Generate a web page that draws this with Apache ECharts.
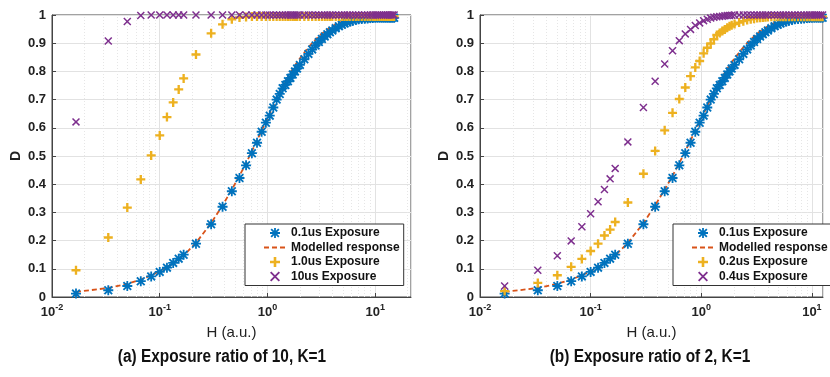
<!DOCTYPE html>
<html>
<head>
<meta charset="utf-8">
<script src="https://cdn.jsdelivr.net/npm/echarts@6/dist/echarts.min.js"></script>
<style>
  html, body { margin: 0; padding: 0; background: #fff; }
  #chart { width: 830px; height: 377px; }
</style>
</head>
<body>
<div id="chart"></div>
<script>
// H (a.u.) sample points, shared by every exposure series
const hValues = [
  0.0167, 0.0333, 0.05, 0.0667, 0.0833, 0.1, 0.1167, 0.1333, 0.15, 0.1667,
  0.217, 0.3, 0.383, 0.467, 0.55, 0.633, 0.717, 0.8, 0.883, 0.967,
  1.05, 1.133, 1.217, 1.3, 1.383, 1.467, 1.55, 1.633, 1.717, 1.8,
  1.883, 2.0, 2.2, 2.4, 2.6, 2.8, 3.0, 3.2, 3.4, 3.6,
  3.8, 4.0, 4.3, 4.6, 4.9, 5.2, 5.5, 5.8, 6.2, 6.6,
  7.0, 7.5, 8.0, 8.5, 9.0, 9.5, 10, 10.5, 11, 11.5,
  12, 12.5, 13, 13.5, 14, 14.5, 15
];

// D values
const exposure01 = [
  0.012, 0.024, 0.039, 0.056, 0.073, 0.089, 0.104, 0.121, 0.136, 0.150,
  0.189, 0.258, 0.320, 0.375, 0.422, 0.467, 0.510, 0.547, 0.586, 0.618,
  0.643, 0.672, 0.700, 0.720, 0.740, 0.752, 0.765, 0.777, 0.789, 0.800,
  0.810, 0.823, 0.843, 0.862, 0.878, 0.892, 0.904, 0.915, 0.924, 0.932,
  0.939, 0.945, 0.953, 0.960, 0.965, 0.970, 0.974, 0.977, 0.980, 0.983,
  0.985, 0.986, 0.987, 0.988, 0.989, 0.989, 0.99, 0.99, 0.99, 0.99,
  0.99, 0.99, 0.99, 0.99, 0.99, 0.99, 0.99
];
const modelled = [
  0.018, 0.032, 0.047, 0.062, 0.077, 0.092, 0.106, 0.120, 0.134, 0.147,
  0.192, 0.262, 0.325, 0.381, 0.430, 0.475, 0.517, 0.555, 0.590, 0.622,
  0.650, 0.677, 0.702, 0.725, 0.746, 0.764, 0.780, 0.795, 0.809, 0.821,
  0.832, 0.846, 0.867, 0.885, 0.900, 0.913, 0.924, 0.934, 0.942, 0.949,
  0.955, 0.960, 0.967, 0.972, 0.976, 0.979, 0.982, 0.984, 0.986, 0.987,
  0.988, 0.989, 0.99, 0.99, 0.99, 0.99, 0.99, 0.99, 0.99, 0.99,
  0.99, 0.99, 0.99, 0.99, 0.99, 0.99, 0.99
];
const exposure10 = [
  0.095, 0.211, 0.317, 0.417, 0.502, 0.573, 0.638, 0.690, 0.736, 0.775,
  0.860, 0.935, 0.967, 0.985, 0.991, 0.993, 0.995, 0.995, 0.995, 0.995,
  0.995, 0.995, 0.995, 0.995, 0.995, 0.995, 0.995, 0.995, 0.995, 0.995,
  0.995, 0.995, 0.995, 0.995, 0.995, 0.995, 0.995, 0.995, 0.995, 0.995,
  0.995, 0.995, 0.995, 0.995, 0.995, 0.995, 0.995, 0.995, 0.995, 0.995,
  0.995, 0.995, 0.995, 0.995, 0.995, 0.995, 0.995, 0.995, 0.995, 0.995,
  0.995, 0.995, 0.995, 0.995, 0.995, 0.995, 0.995
];
const exposure100 = [
  0.621, 0.908, 0.977, 0.998, 1, 1, 1, 1, 1, 1,
  1, 1, 1, 1, 1, 1, 1, 1, 1, 1,
  1, 1, 1, 1, 1, 1, 1, 1, 1, 1,
  1, 1, 1, 1, 1, 1, 1, 1, 1, 1,
  1, 1, 1, 1, 1, 1, 1, 1, 1, 1,
  1, 1, 1, 1, 1, 1, 1, 1, 1, 1,
  1, 1, 1, 1, 1, 1, 1
];
const exposure02 = [
  0.021, 0.050, 0.077, 0.107, 0.135, 0.163, 0.189, 0.218, 0.239, 0.266,
  0.335, 0.437, 0.518, 0.591, 0.653, 0.702, 0.743, 0.783, 0.814, 0.837,
  0.864, 0.884, 0.899, 0.914, 0.929, 0.936, 0.943, 0.949, 0.955, 0.960,
  0.964, 0.968, 0.973, 0.978, 0.982, 0.985, 0.987, 0.989, 0.990, 0.991,
  0.992, 0.993, 0.994, 0.994, 0.994, 0.994, 0.994, 0.994, 0.994, 0.994,
  0.994, 0.994, 0.994, 0.994, 0.994, 0.994, 0.994, 0.994, 0.994, 0.994,
  0.994, 0.994, 0.994, 0.994, 0.994, 0.994, 0.994
];
const exposure04 = [
  0.039, 0.095, 0.146, 0.199, 0.249, 0.295, 0.338, 0.381, 0.419, 0.456,
  0.550, 0.672, 0.765, 0.826, 0.873, 0.909, 0.933, 0.949, 0.963, 0.972,
  0.980, 0.985, 0.989, 0.992, 0.994, 0.995, 0.996, 0.997, 0.998, 0.998,
  0.999, 1, 1, 1, 1, 1, 1, 1, 1, 1,
  1, 1, 1, 1, 1, 1, 1, 1, 1, 1,
  1, 1, 1, 1, 1, 1, 1, 1, 1, 1,
  1, 1, 1, 1, 1, 1, 1
];

const legendLeft = ["0.1us Exposure", "Modelled response", "1.0us Exposure", "10us Exposure"];
const legendRight = ["0.1us Exposure", "Modelled response", "0.2us Exposure", "0.4us Exposure"];
const captions = ["(a) Exposure ratio of 10, K=1", "(b) Exposure ratio of 2, K=1"];

const BLUE = "#0072BD";
const ORANGE = "#D95319";
const YELLOW = "#EDB120";
const PURPLE = "#7E2F8E";

const ARIAL = "'Liberation Sans', Arial, sans-serif";

// matlab style markers
const asterisk = "path://M-0.9,-5H0.9V-0.9H5V0.9H0.9V5H-0.9V0.9H-5V-0.9H-0.9Z M-3.2,-4.5L4.5,3.2L3.2,4.5L-4.5,-3.2Z M-4.5,3.2L3.2,-4.5L4.5,-3.2L-3.2,4.5Z";
const plus = "path://M-1.3,-5H1.3V-1.3H5V1.3H1.3V5H-1.3V1.3H-5V-1.3H-1.3Z";
const cross = "path://M-3.4,-4.6L4.6,3.4L3.4,4.6L-4.6,-3.4Z M-4.6,3.4L3.4,-4.6L4.6,-3.4L-3.4,4.6Z";

const pairs = (ys) => hValues.map((h, i) => [h, ys[i]]);

// dotted minor grid at 2..9 of each decade
function minorGrid(max) {
  const out = [];
  for (let e = -2; e <= 1; e++) {
    for (let m = 2; m <= 9; m++) {
      const v = m * Math.pow(10, e);
      if (v < max) out.push({ xAxis: v });
    }
  }
  return out;
}

const chart = echarts.init(document.getElementById("chart"), null, { renderer: "canvas" });

const grids = [
  { left: 52, top: 15, width: 359, height: 282, xMax: 21.5 },
  { left: 480, top: 15, width: 343, height: 282, xMax: 12.6 },
];

function xAxisFor(i) {
  return {
    type: "log",
    logBase: 10,
    gridIndex: i,
    min: 0.01,
    max: grids[i].xMax,
    splitNumber: 3,
    name: "H (a.u.)",
    nameLocation: "middle",
    nameGap: 28,
    nameTextStyle: { fontFamily: ARIAL, fontSize: 15, color: "#222" },
    axisLine: { lineStyle: { color: "#444", width: 1 } },
    axisTick: { inside: true, length: 4, lineStyle: { color: "#444" } },
    splitLine: { show: true, lineStyle: { color: "#e2e2e2", width: 1 } },
    axisLabel: {
      margin: 6,
      showMaxLabel: false,
      formatter: (v) => {
        const e = Math.round(Math.log10(v));
        if (Math.abs(v - Math.pow(10, e)) > 1e-9 * Math.pow(10, e)) return "";
        return "{b|10}{s|" + e + "}";
      },
      rich: {
        b: { fontFamily: ARIAL, fontWeight: "bold", fontSize: 13, color: "#222", lineHeight: 16, verticalAlign: "bottom" },
        s: { fontFamily: ARIAL, fontWeight: "bold", fontSize: 9, color: "#222", lineHeight: 6, verticalAlign: "top" },
      },
    },
  };
}

function yAxisFor(i) {
  return {
    type: "value",
    gridIndex: i,
    min: 0,
    max: 1,
    interval: 0.1,
    name: "D",
    nameLocation: "middle",
    nameGap: 29,
    nameTextStyle: { fontFamily: ARIAL, fontWeight: "bold", fontSize: 14, color: "#222" },
    axisLine: { show: true, lineStyle: { color: "#444", width: 1 } },
    axisTick: { show: true, inside: true, length: 4, lineStyle: { color: "#444" } },
    splitLine: { show: true, lineStyle: { color: "#e2e2e2", width: 1 } },
    axisLabel: {
      margin: 6,
      fontFamily: ARIAL,
      fontWeight: "bold",
      fontSize: 13,
      color: "#222",
      formatter: (v) => (v === 0 || v === 1 ? String(v) : v.toFixed(1)),
    },
  };
}

function scatter(name, i, ys, symbol, size, color) {
  return {
    name,
    type: "scatter",
    xAxisIndex: i,
    yAxisIndex: i,
    data: pairs(ys),
    symbol,
    symbolSize: size,
    itemStyle: { color, opacity: 1 },
    emphasis: { disabled: true },
    z: 3,
  };
}

function modelLine(i) {
  return {
    name: "Modelled response",
    type: "line",
    xAxisIndex: i,
    yAxisIndex: i,
    data: pairs(modelled),
    symbol: "none",
    showSymbol: false,
    lineStyle: { color: ORANGE, width: 1.8, type: [5, 3] },
    itemStyle: { color: ORANGE },
    z: 3,
    markLine: {
      silent: true,
      z: 1,
      symbol: ["none", "none"],
      label: { show: false },
      animation: false,
      lineStyle: { color: "#e6e6e6", width: 1, type: [1, 2] },
      data: minorGrid(grids[i].xMax),
    },
  };
}

function legendFor(left, names) {
  return {
    orient: "vertical",
    left,
    top: 224,
    padding: [2, 4, 2, 18],
    itemWidth: 22,
    itemHeight: 10,
    itemGap: 0.5,
    itemTextGap: 3,
    selectedMode: false,
    backgroundColor: "#fff",
    borderColor: "#333",
    borderWidth: 1,
    borderRadius: 0,
    textStyle: { fontFamily: ARIAL, fontWeight: "bold", fontSize: 12, color: "#111", lineHeight: 14 },
    data: names.map((n) => (n === "Modelled response" ? { name: n, itemStyle: { opacity: 0 } } : n)),
  };
}

// panel captions, squeezed horizontally to look like a narrow face
function caption(text, cx) {
  return {
    type: "text",
    x: cx,
    y: 357,
    scaleX: 0.855,
    silent: true,
    style: {
      text,
      fontFamily: ARIAL,
      fontWeight: "bold",
      fontSize: 18,
      fill: "#111",
      align: "center",
      verticalAlign: "middle",
    },
  };
}

const option = {
  animation: false,
  backgroundColor: "#fff",
  grid: grids.map((g) => ({
    left: g.left,
    top: g.top,
    width: g.width,
    height: g.height,
    show: true,
    borderColor: "#444",
    borderWidth: 1,
    backgroundColor: "#fff",
  })),
  graphic: [caption(captions[0], 222), caption(captions[1], 650)],
  legend: [legendFor(245, legendLeft), legendFor(673, legendRight)],
  xAxis: [xAxisFor(0), xAxisFor(1)],
  yAxis: [yAxisFor(0), yAxisFor(1)],
  series: [
    scatter("0.1us Exposure", 0, exposure01, asterisk, 10, BLUE),
    modelLine(0),
    scatter("1.0us Exposure", 0, exposure10, plus, 9, YELLOW),
    scatter("10us Exposure", 0, exposure100, cross, 8, PURPLE),
    scatter("0.1us Exposure", 1, exposure01, asterisk, 10, BLUE),
    modelLine(1),
    scatter("0.2us Exposure", 1, exposure02, plus, 9, YELLOW),
    scatter("0.4us Exposure", 1, exposure04, cross, 8, PURPLE),
  ],
};

chart.setOption(option);
</script>
</body>
</html>
